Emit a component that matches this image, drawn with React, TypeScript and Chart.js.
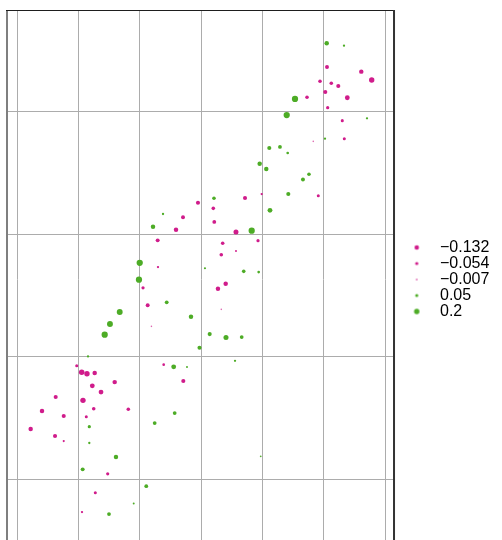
import React, { useEffect, useRef } from "react";
import { Chart, registerables } from "chart.js";

Chart.register(...registerables);

// x positions (grid units; vertical grid lines at integers)
const xs = [
  5.045, 5.327, 5.05, 5.609, 5.779, 4.936, 5.12, 5.234, 5.022, 5.381,
  4.724, 4.528, 5.061, 4.393, 5.299, 5.702, 4.826, 5.017, 5.332, 4.109,
  4.283, 4.409, 3.952, 4.06, 4.756, 4.658, 3.985, 4.419, 4.908, 3.207,
  3.713, 2.946, 3.196, 4.12, 3.212, 3.566, 3.822, 3.349, 3.925, 3.326,
  3.566, 3.06, 3.692, 3.936, 3.398, 3.272, 3.326, 3.137, 3.403, 3.659,
  2.971, 2.376, 2.702, 2.213, 2.588, 2.289, 1.996, 2.294, 1.984, 2.05,
  2.126, 2.436, 1.67, 2.832, 2.187, 1.511, 1.425, 1.153, 0.969, 1.05,
  1.136, 1.262, 1.223, 1.588, 1.365, 0.626, 1.071, 0.403, 0.757, 1.246,
  1.81, 1.125, 0.218, 0.615, 0.757, 1.174, 1.174, 1.609, 1.066, 1.474,
  1.272, 1.898, 1.055, 1.495, 2.103, 2.387, 2.55, 2.767, 2.707, 2.566,
  2.24, 3.55, 3.969,
];

// y positions (grid units; horizontal grid lines at integers)
const ys = [
  3.558, 3.539, 3.365, 3.327, 3.259, 3.248, 3.232, 3.21, 3.161, 3.114,
  3.118, 3.104, 3.033, 2.973, 2.927, 2.946, 2.758, 2.78, 2.78, 2.704,
  2.712, 2.663, 2.576, 2.532, 2.489, 2.447, 2.328, 2.328, 2.314, 2.293,
  2.296, 2.257, 2.211, 2.195, 2.1, 2.018, 2.029, 1.926, 1.947, 1.833,
  1.863, 1.722, 1.697, 1.691, 1.596, 1.555, 1.387, 1.185, 1.158, 1.161,
  1.073, 2.165, 2.138, 2.061, 2.037, 1.95, 1.767, 1.732, 1.629, 1.563,
  1.42, 1.444, 1.365, 1.327, 1.248, 1.267, 1.18, 1.003, 0.927, 0.873,
  0.861, 0.867, 0.763, 0.793, 0.712, 0.671, 0.644, 0.557, 0.516, 0.576,
  0.571, 0.51, 0.41, 0.353, 0.312, 0.429, 0.296, 0.181, 0.081, 0.045,
  -0.11, -0.197, -0.268, -0.284, -0.056, 0.935, 0.918, 0.916, 0.802, 0.54,
  0.459, 0.967, 0.187,
];

// value mapped to colour (sign) and size (magnitude)
const vals = [
  0.128, 0.02, -0.092, -0.128, -0.2, -0.072, -0.072, -0.103, -0.103, -0.154,
  -0.072, 0.287, -0.054, 0.287, -0.046, 0.02, -0.005, 0.02, -0.046, 0.103,
  0.082, 0.032, 0.128, 0.128, 0.072, 0.092, -0.02, 0.103, -0.046, 0.072,
  -0.103, -0.103, -0.072, 0.154, -0.082, -0.169, 0.287, -0.072, -0.054, -0.072,
  -0.011, 0.016, 0.072, 0.032, -0.128, -0.128, -0.005, 0.103, 0.169, 0.082,
  0.103, 0.02, -0.092, 0.128, -0.128, -0.092, 0.287, -0.02, 0.287, -0.054,
  -0.092, 0.082, 0.25, 0.128, -0.005, 0.25, 0.287, 0.02, -0.046, -0.215,
  -0.2, -0.128, -0.154, -0.128, -0.154, -0.103, -0.2, -0.128, -0.103, -0.072,
  -0.072, -0.046, -0.128, -0.103, -0.016, 0.054, 0.02, 0.128, 0.092, -0.054,
  -0.046, 0.011, -0.02, 0.082, 0.082, -0.032, 0.154, 0.011, -0.103, 0.082,
  0.082, 0.02, 0.008,
];

const legendValues = [-0.132, -0.054, -0.007, 0.05, 0.2];
const legendLabels = ["\u22120.132", "\u22120.054", "\u22120.007", "0.05", "0.2"];

const xMin = -0.168;
const xMax = 6.159;
const yMin = -0.569;
const yMax = 3.83;

const NEG = [208, 28, 139];
const POS = [77, 172, 38];
const MID = [247, 247, 247];

function colorOf(v: number): string {
  const base = v < 0 ? NEG : POS;
  const t = Math.min(1, 0.25 + Math.abs(v) / 0.012);
  const c = base.map((b, i) => Math.round(MID[i] + (b - MID[i]) * t));
  return `rgb(${c[0]},${c[1]},${c[2]})`;
}

function radiusOf(v: number): number {
  return 0.45 + 5 * Math.sqrt(Math.abs(v));
}

function legendDot(v: number): HTMLCanvasElement {
  const c = document.createElement("canvas");
  c.width = 16;
  c.height = 16;
  const g = c.getContext("2d")!;
  g.fillStyle = colorOf(v);
  g.beginPath();
  g.arc(8 + 3.2, 8, radiusOf(v), 0, Math.PI * 2);
  g.fill();
  return c;
}

const framePlugin = {
  id: "frame",
  afterDraw(chart: any) {
    const { ctx, chartArea } = chart;
    const { left, right, top, bottom } = chartArea;
    ctx.save();
    ctx.fillStyle = "#7f7f7f";
    ctx.fillRect(left - 1, top, 2, bottom - top);
    ctx.fillStyle = "#1e1e1e";
    ctx.fillRect(left - 1, top, right - left + 1, 1);
    ctx.fillStyle = "#333333";
    ctx.fillRect(right - 2, top, 2, bottom - top);
    ctx.restore();
  },
};

export default function App() {
  const ref = useRef<HTMLCanvasElement | null>(null);

  useEffect(() => {
    if (!ref.current) return;
    const points = xs.map((x, i) => ({ x, y: ys[i] }));
    const dots = legendValues.map(legendDot);
    const chart = new Chart(ref.current, {
      type: "scatter",
      data: {
        datasets: [
          {
            data: points,
            pointRadius: (c: any) => radiusOf(vals[c.dataIndex]),
            pointHoverRadius: (c: any) => radiusOf(vals[c.dataIndex]),
            backgroundColor: (c: any) => colorOf(vals[c.dataIndex]),
            borderWidth: 0,
          },
        ],
      },
      options: {
        animation: false,
        responsive: true,
        maintainAspectRatio: false,
        events: [],
        layout: { autoPadding: false, padding: { left: 7, top: 10, right: 2.6, bottom: 0 } },
        scales: {
          x: {
            type: "linear",
            min: xMin,
            max: xMax,
            border: { display: false },
            grid: { color: "#acacac", lineWidth: 1, drawTicks: false },
            ticks: { display: false, stepSize: 1, includeBounds: false },
          },
          y: {
            type: "linear",
            min: yMin,
            max: yMax,
            border: { display: false },
            grid: { color: "#acacac", lineWidth: 1, drawTicks: false },
            ticks: { display: false, stepSize: 1, includeBounds: false },
          },
        },
        plugins: {
          tooltip: { enabled: false },
          legend: {
            position: "right",
            onClick: () => {},
            labels: {
              usePointStyle: true,
              pointStyleWidth: 37,
              padding: 0,
              color: "#000000",
              font: { family: "'Liberation Sans', Arial, sans-serif", size: 16 },
              generateLabels: () =>
                legendLabels.map((text, i) => ({
                  text,
                  pointStyle: dots[i],
                  fillStyle: colorOf(legendValues[i]),
                  strokeStyle: "rgba(0,0,0,0)",
                  lineWidth: 0,
                  hidden: false,
                  datasetIndex: 0,
                  fontColor: "#000000",
                })),
            },
          },
        },
      },
      plugins: [framePlugin],
    });
    return () => chart.destroy();
  }, []);

  return (
    <div
      style={{
        position: "absolute",
        left: 0,
        top: 0,
        width: 502,
        height: 540,
        overflow: "hidden",
        background: "#ffffff",
      }}
    >
      <div style={{ position: "relative", width: 502, height: 549 }}>
        <canvas ref={ref} />
      </div>
    </div>
  );
}
